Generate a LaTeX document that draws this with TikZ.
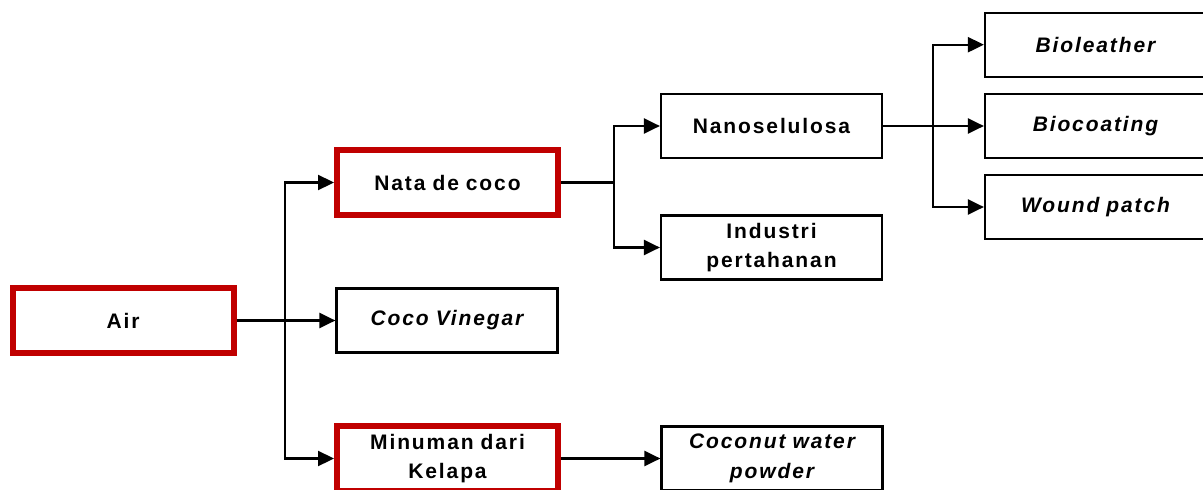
\documentclass[tikz,border=0pt]{standalone}
\usepackage{fontspec}
\setmainfont{Liberation Sans}[LetterSpace=9,WordSpace=1.8]
\usetikzlibrary{arrows.meta}
\definecolor{boxred}{RGB}{192,0,0}

\begin{document}
\begin{tikzpicture}[x=1pt,y=-1pt,
  lbl/.style={font=\fontsize{21}{29.5}\selectfont\bfseries, align=center,
              text width=215pt, inner sep=0pt},
  keybox/.style={lbl, draw=boxred, line width=6pt,
                 minimum width=221pt, minimum height=65pt},
  plainbox/.style={lbl, draw=black, line width=2.2pt,
                   minimum width=221pt, minimum height=64pt},
  conn/.style={line width=2.3pt, -{Triangle[length=16pt,width=15pt]}}]

\useasboundingbox (0,0) rectangle (1203,490);

% boxes
\node[keybox]   (air)        at (123,320.5)   {Air};
\node[keybox]   (nata)       at (447.5,182.5) {Nata de coco};
\node[plainbox] (vinegar)    at (447,320.5)   {\itshape Coco Vinegar};
\node[keybox]   (minuman)    at (447.5,458.5) {Minuman dari\\Kelapa};
\node[plainbox] (nano)       at (771.5,126)   {Nanoselulosa};
\node[plainbox] (industri)   at (771.5,247.5) {Industri\\pertahanan};
\node[plainbox] (coconut)    at (772,458.5)   {\itshape Coconut water\\powder};
\node[plainbox] (bioleather) at (1095.5,44.7) {\itshape Bioleather};
\node[plainbox] (biocoating) at (1095.5,126)  {\itshape Biocoating};
\node[plainbox] (wound)      at (1095.5,207)  {\itshape Wound patch};

% branching points
\coordinate (j1) at (285,320.5);
\coordinate (j2) at (614,182.5);
\coordinate (j3) at (933,126);

% connectors
\draw[conn] (air.east) -- (j1) |- (nata.west);
\draw[conn] (j1) -- (vinegar.west);
\draw[conn] (j1) |- (minuman.west);

\draw[conn] (nata.east) -- (j2) |- (nano.west);
\draw[conn] (j2) |- (industri.west);

\draw[conn] (nano.east) -- (j3) |- (bioleather.west);
\draw[conn] (j3) -- (biocoating.west);
\draw[conn] (j3) |- (wound.west);

\draw[conn] (minuman.east) -- (coconut.west);
\end{tikzpicture}
\end{document}
